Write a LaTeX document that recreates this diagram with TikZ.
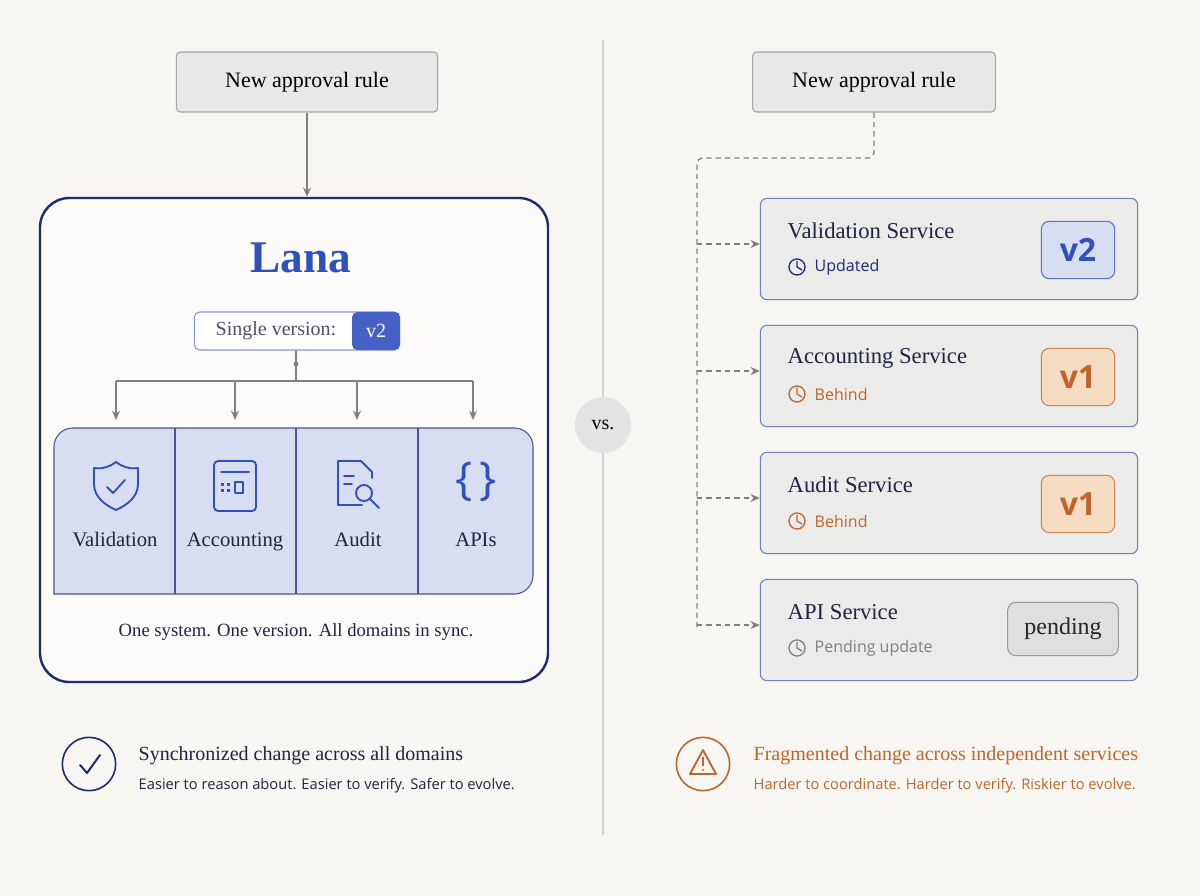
\documentclass[tikz,border=0pt]{standalone}
\usepackage{fontspec}
\setmainfont{Liberation Serif}
\setsansfont{Open Sans}
\usetikzlibrary{arrows.meta}
\definecolor{bg}{HTML}{F7F6F2}
\definecolor{navy}{HTML}{1E2A78}
\definecolor{lblue}{HTML}{3050C0}
\definecolor{dom}{HTML}{D8DEF2}
\definecolor{svc}{HTML}{EBEBE9}
\definecolor{svcb}{HTML}{7180BC}
\definecolor{org}{HTML}{C0652A}
\definecolor{orgf}{HTML}{F7DCC4}
\definecolor{gline}{HTML}{808080}
\definecolor{txt}{HTML}{1F2440}
\begin{document}
\begin{tikzpicture}[x=0.75pt,y=-0.75pt,
  rule/.style={draw=gray!70,fill=gray!18,rounded corners=3pt,line width=0.8pt},
  arr/.style={-{Stealth[length=7pt,width=6pt]},draw=gline,line width=1pt},
  darr/.style={-{Stealth[length=7pt,width=6pt]},draw=gline,line width=1pt,dash pattern=on 4pt off 3pt},
  service/.style={draw=svcb,fill=svc,rounded corners=5pt,line width=0.8pt},
  stitle/.style={anchor=west,font=\fontsize{17}{20}\selectfont,text=txt},
  sstat/.style={anchor=west,font=\sffamily\fontsize{12}{14}\selectfont},
  dlab/.style={font=\fontsize{15.5}{18}\selectfont,text=txt,text depth=0pt},
  icon/.style={draw=lblue,line width=1.4pt,line cap=round,line join=round}]
\fill[bg] (0,0) rectangle (1200,896);
\useasboundingbox (0,0) rectangle (1200,896);
% divider
\draw[gray!35,line width=1pt] (603,40) -- (603,835);
\node[circle,fill=gray!22,minimum size=42pt,inner sep=0pt,font=\fontsize{15}{18}\selectfont] (vs) at (603,425) {vs.};

% ===== left =====
\node[rule,minimum width=196pt,minimum height=45pt,font=\fontsize{16.5}{20}\selectfont] (r1) at (307,82) {New approval rule};
\node[draw=navy,line width=1.8pt,fill=white!60!bg,rounded corners=22pt,minimum width=381pt,minimum height=363pt] (lana) at (294,440) {};
\draw[arr] (r1.south) -- (lana.north -| r1.south);
\node[font=\bfseries\fontsize{34}{38}\selectfont,text=lblue] (lt) at (301,258) {Lana};
\node[draw=lblue!60,fill=white,rounded corners=4pt,minimum width=154pt,minimum height=28.5pt,line width=0.8pt] (pill) at (297,331) {};
\node[font=\fontsize{15}{18}\selectfont,text=txt!80] (sv) at (276,331) {Single version:};
\node[fill=lblue!90,rounded corners=4pt,minimum width=36pt,minimum height=28.5pt,text=white,font=\fontsize{15}{18}\selectfont] (v2a) at (376,331) {v2};
\coordinate (hub) at (296,364);
\draw[gline,line width=1pt] (pill.south -| hub) -- (hub);
\fill[gline] (hub) circle (2.5);
\draw[gline,line width=1pt] (hub) -- (296,381) (116,381) -- (473,381);
% domains
\path[draw=navy!80,fill=dom,line width=0.8pt,rounded corners=14pt] (54,594) -- (54,428) -- (533,428) -- (533,594) [sharp corners]-- cycle;
\draw[navy!80,line width=0.8pt] (175,428) -- (175,594) (296,428) -- (296,594) (418,428) -- (418,594);
\node[dlab,anchor=base] (d1) at (115,546) {Validation};
\node[dlab,anchor=base] (d2) at (235,546) {Accounting};
\node[dlab,anchor=base] (d3) at (358,546) {Audit};
\node[dlab,anchor=base] (d4) at (476,546) {APIs};
\foreach \x/\n in {116/d1,235/d2,357/d3,473/d4} \draw[arr] (\x,381) -- (\x,420);
% shield
\draw[icon] (116,462) .. controls (108,468) and (100,469) .. (94,468) -- (94,484) .. controls (94,497) and (105,505) .. (116,510) .. controls (127,505) and (138,497) .. (138,484) -- (138,468) .. controls (132,469) and (124,468) .. (116,462) -- cycle;
\draw[icon] (107,487) -- (113,493) -- (125,480);
% calculator
\draw[icon,rounded corners=3pt] (214,461) rectangle (256,511);
\draw[icon] (221,472) -- (249,472);
\foreach \a/\b in {222/484,228/484,222/490,228/490} \fill[lblue] (\a-1.5,\b-1.5) rectangle (\a+1.5,\b+1.5);
\draw[icon,line width=1.2pt] (235,482) rectangle (243,493);
% document magnifier
\draw[icon] (362,505) -- (338,505) -- (338,461) -- (361,461) -- (372,472) -- (372,478);
\draw[icon] (344,476) -- (354,476) (344,484) -- (352,484);
\draw[icon] (364,493) circle (8);
\draw[icon] (370,499) -- (379,508);
\node[text=lblue,font=\sffamily\fontsize{34}{36}\selectfont] (br) at (476,482) {\{\,\}};
\node[font=\fontsize{14}{17}\selectfont,text=txt] (cap) at (296,632) {One system. One version. All domains in sync.};
% bottom left
\node[circle,draw=navy,line width=1.2pt,minimum size=40pt,inner sep=0pt] (ck) at (89,764) {};
\draw[navy,line width=1.5pt,line cap=round,line join=round] (80,765) -- (87,773) -- (100,755);
\node[anchor=west,font=\fontsize{15}{18}\selectfont,text=txt] (b1) at (134,756) {Synchronized change across all domains};
\node[anchor=west,font=\sffamily\fontsize{11}{14}\selectfont,text=txt] (b2) at (134,786) {Easier to reason about. Easier to verify. Safer to evolve.};

% ===== right =====
\node[rule,minimum width=182pt,minimum height=45pt,font=\fontsize{16.5}{20}\selectfont] (r2) at (874,82) {New approval rule};
\coordinate (c1) at (874,158);
\coordinate (c2) at (697,158);
\coordinate (c3) at (697,628);
\draw[gline,line width=1pt,dash pattern=on 4pt off 3pt,rounded corners=4pt] (r2.south) -- (c1) -- (c2) -- (c3);
\foreach \y/\n/\t/\s/\c/\v in {249/s1/Validation Service/Updated/navy/v2, 376/s2/Accounting Service/Behind/org/v1, 503/s3/Audit Service/Behind/org/v1, 630/s4/API Service/Pending update/gray/p}{
  \node[service,minimum width=283pt,minimum height=76pt] (\n) at (949,\y) {};
  \draw[darr] (697,\y-5) -- (\n.west |- 0,\y-5);
  \node[stitle] (\n t) at (783,\y-18) {\t};
  \draw[\c,line width=1pt] (797,\y+18) circle (8) (797,\y+12) -- (797,\y+18) -- (802,\y+21);
  \node[sstat,text=\c] (\n s) at (810,\y+18) {\s};
}
\node[draw=lblue!80,fill=dom,rounded corners=6pt,line width=0.8pt,minimum width=55pt,minimum height=43pt,text=lblue,font=\sffamily\bfseries\fontsize{24}{26}\selectfont] (bv2) at (1078,250) {v2};
\node[draw=org!80,fill=orgf,rounded corners=6pt,line width=0.8pt,minimum width=55pt,minimum height=43pt,text=org,font=\sffamily\bfseries\fontsize{24}{26}\selectfont] (bv1) at (1078,377) {v1};
\node[draw=org!80,fill=orgf,rounded corners=6pt,line width=0.8pt,minimum width=55pt,minimum height=43pt,text=org,font=\sffamily\bfseries\fontsize{24}{26}\selectfont] (bv3) at (1078,504) {v1};
\node[draw=gray!80,fill=gray!25,rounded corners=6pt,line width=0.8pt,minimum width=83pt,minimum height=40pt,text=black!85,font=\fontsize{18}{20}\selectfont] (bp) at (1063,629) {pending};
% bottom right
\node[circle,draw=org,line width=1.2pt,minimum size=40pt,inner sep=0pt] (wn) at (703,764) {};
\draw[org,line width=1.4pt,line join=round] (703,750) -- (716,774) -- (690,774) -- cycle;
\draw[org,line width=1.6pt] (703,757) -- (703,766);
\fill[org] (703,770) circle (1.2);
\node[anchor=west,font=\fontsize{15}{18}\selectfont,text=org] (b3) at (749,756) {Fragmented change across independent services};
\node[anchor=west,font=\sffamily\fontsize{11}{14}\selectfont,text=org] (b4) at (749,786) {Harder to coordinate. Harder to verify. Riskier to evolve.};
\end{tikzpicture}
\end{document}
